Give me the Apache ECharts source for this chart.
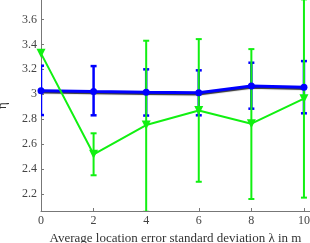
<!DOCTYPE html>
<html><head><meta charset="utf-8">
<script src="https://cdn.jsdelivr.net/npm/echarts@6/dist/echarts.min.js"></script>
<style>html,body{margin:0;padding:0;background:#fff}#c{width:310px;height:243px}</style>
</head><body><div id="c"></div>
<script>
const xVals = [0, 2, 4, 6, 8, 10];
const blueMean = [3.029, 3.022, 3.016, 3.013, 3.066, 3.056];
const blueLow  = [2.834, 2.832, 2.830, 2.832, 2.885, 2.848];
const blueHigh = [3.229, 3.226, 3.200, 3.192, 3.253, 3.266];
const greenMean = [3.328, 2.520, 2.754, 2.871, 2.765, 2.965];
const greenLow  = [null, 2.352, 2.060, 2.300, 2.162, 2.173];
const greenHigh = [null, 2.688, 3.429, 3.442, 3.362, 3.760];
const xTicks = [0, 2, 4, 6, 8, 10];
const yTicks = [2.2, 2.4, 2.6, 2.8, 3.0, 3.2, 3.4, 3.6];
const xLabel = 'Average location error standard deviation λ in m';
const yLabel = 'η̂';

const serif = 'Liberation Serif';
const blue = '#0000ff', green = '#11f011';

function errSeries(low, high, color, capW, lw, z) {
  const data = xVals.map((x, i) => [x, low[i], high[i]]).filter(d => d[1] != null);
  return {
    type: 'custom', clip: true, z: z,
    data: data,
    encode: { x: 0, y: [1, 2] },
    renderItem: function (params, api) {
      const x = api.value(0);
      const lo = api.coord([x, api.value(1)]);
      const hi = api.coord([x, api.value(2)]);
      const st = { stroke: color, lineWidth: lw };
      return {
        type: 'group',
        children: [
          { type: 'line', shape: { x1: lo[0], y1: lo[1], x2: hi[0], y2: hi[1] }, style: st },
          { type: 'line', shape: { x1: lo[0] - capW, y1: lo[1], x2: lo[0] + capW, y2: lo[1] }, style: st },
          { type: 'line', shape: { x1: hi[0] - capW, y1: hi[1], x2: hi[0] + capW, y2: hi[1] }, style: st }
        ]
      };
    }
  };
}

const chart = echarts.init(document.getElementById('c'), null, { renderer: 'canvas' });
chart.setOption({
  animation: false,
  grid: { left: 41, right: 0, top: 0, bottom: 32, containLabel: false, outerBoundsMode: 'none' },
  xAxis: {
    type: 'value', min: 0, max: 10.23,
    name: xLabel, nameLocation: 'middle', nameGap: 21,
    nameTextStyle: { fontFamily: serif, fontSize: 13, color: '#333' },
    axisLine: { show: true, lineStyle: { color: '#777', width: 1 } },
    axisTick: { show: true, inside: true, length: 3, customValues: xTicks, lineStyle: { color: '#777' } },
    axisLabel: { customValues: xTicks, fontFamily: serif, fontSize: 12, color: '#444', margin: 4 },
    splitLine: { show: false }
  },
  yAxis: {
    type: 'value', min: 2.066, max: 3.755,
    name: yLabel, nameLocation: 'middle', nameGap: 32, nameRotate: 90,
    nameTextStyle: { fontFamily: serif, fontSize: 13, color: '#333' },
    axisLine: { show: true, lineStyle: { color: '#777', width: 1 } },
    axisTick: { show: true, inside: true, length: 3, customValues: yTicks, lineStyle: { color: '#777' } },
    axisLabel: { customValues: yTicks, fontFamily: serif, fontSize: 12, color: '#444', margin: 4,
      formatter: v => String(Math.round(v * 10) / 10) },
    splitLine: { show: false }
  },
  series: [
    errSeries(blueLow, blueHigh, blue, 3, 2.5, 1),
    errSeries(greenLow, greenHigh, green, 3, 2, 2),
    {
      type: 'line', z: 3,
      data: xVals.map((x, i) => [x, blueMean[i]]),
      symbol: 'circle', symbolSize: 7,
      itemStyle: { color: blue },
      lineStyle: { color: blue, width: 3, shadowColor: 'rgba(0,0,0,0.8)', shadowOffsetY: 1.2, shadowBlur: 1 }
    },
    {
      type: 'line', z: 4,
      data: xVals.map((x, i) => [x, greenMean[i]]),
      symbol: 'triangle', symbolRotate: 180, symbolSize: 9,
      itemStyle: { color: green },
      lineStyle: { color: green, width: 2 }
    }
  ]
});
</script></body></html>
